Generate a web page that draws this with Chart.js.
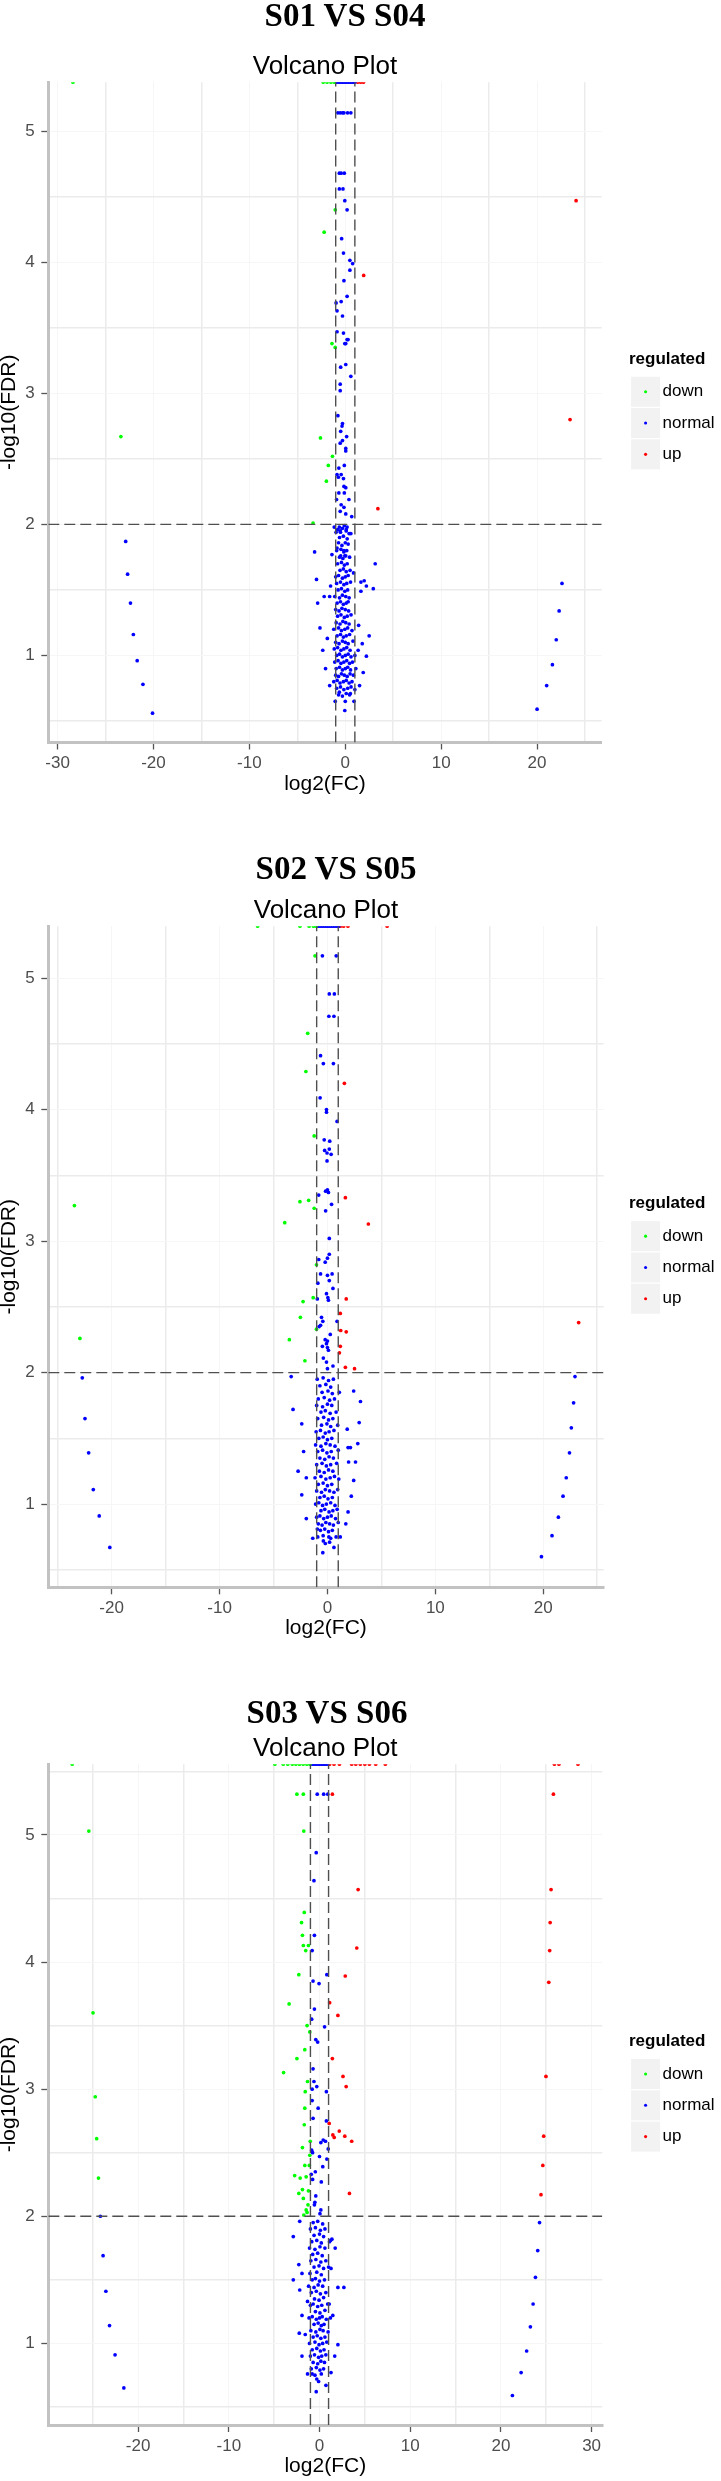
<!DOCTYPE html>
<html><head><meta charset="utf-8">
<script src="https://cdn.jsdelivr.net/npm/chart.js@4.4.1/dist/chart.umd.min.js"></script>
<style>
html,body{margin:0;padding:0;background:#fff;overflow:hidden;}
#page{position:relative;width:721px;height:2481px;overflow:hidden;}
.panel{position:absolute;left:0;width:721px;}
.panel canvas{position:absolute;left:0;top:0;}
.stitle{position:absolute;width:400px;text-align:center;font-family:"Liberation Serif","Times New Roman",serif;font-weight:bold;font-size:33px;line-height:33px;color:#000;white-space:nowrap;}
</style></head><body>
<div id="page"></div>
<script>
// ---------------- DATA ----------------
const panelTitles = ['S01 VS S04', 'S02 VS S05', 'S03 VS S06'];
const chartTitle = 'Volcano Plot';
const legendTitle = 'regulated';
const seriesNames = ['down', 'normal', 'up'];
const xAxisTitle = 'log2(FC)';
const yAxisTitle = '-log10(FDR)';

const xTicks1 = [-30, -25, -20, -15, -10, -5, 0, 5, 10, 15, 20, 25];
const xTicks2 = [-25, -20, -15, -10, -5, 0, 5, 10, 15, 20, 25];
const xTicks3 = [-25, -20, -15, -10, -5, 0, 5, 10, 15, 20, 25, 30];
const yTicks1 = [0.5, 1, 1.5, 2, 2.5, 3, 3.5, 4, 4.5, 5];
const yTicks2 = [0.5, 1, 1.5, 2, 2.5, 3, 3.5, 4, 4.5, 5];
const yTicks3 = [0.5, 1, 1.5, 2, 2.5, 3, 3.5, 4, 4.5, 5, 5.5];

const xRange1 = [-30.97, 26.74], yRange1 = [0.336, 5.374];
const xRange2 = [-25.87, 25.6],  yRange2 = [0.367, 5.395];
const xRange3 = [-29.9, 31.18],  yRange3 = [0.358, 5.556];

const fcCut = [-1, 1];   // log2(FC) thresholds
const fdrCut = 2;        // -log10(FDR) threshold
const INF = Infinity;    // FDR = 0 -> drawn on the panel edge

// ---- Panel 1: S01 VS S04 ----
const p1Down = [[-28.4,INF],[-2.3,INF],[-1.9,INF],[-1.5,INF],[-1.15,INF],
  [-1.05,4.40],[-2.2,4.23],[-1.39,3.38],[-1.05,3.35],[-23.4,2.67],[-2.59,2.66],[-1.34,2.52],[-1.77,2.45],[-1.97,2.33],[-3.36,2.01]];
const p1Up = [[1.3,INF],[1.6,INF],[1.9,INF],[24.07,4.47],[1.92,3.90],[23.44,2.80],[3.4,2.12]];
const p1Normal = [[-0.95,INF],[-0.75,INF],[-0.55,INF],[-0.35,INF],[-0.15,INF],[0.05,INF],[0.25,INF],[0.45,INF],[0.65,INF],[0.85,INF],[1.0,INF],
  [-0.77,5.14],[-0.53,5.14],[-0.29,5.14],[-0.14,5.14],[0.24,5.14],[0.58,5.14],
  [-0.62,4.68],[-0.43,4.68],[-0.1,4.68],[-0.62,4.56],[-0.24,4.56],[-0.05,4.47],[0.19,4.40],[-0.38,4.18],[-0.19,4.07],[0.48,4.015],[0.77,3.99],[0.48,3.94],
  [-0.14,3.86],[0.19,3.74],[-0.43,3.70],[-0.96,3.69],[-0.86,3.63],[-0.29,3.59],[-0.86,3.47],[-0.19,3.46],[0.19,3.41],[0.29,3.41],[0.05,3.38],[-0.05,3.38],
  [0.05,3.22],[-0.48,3.20],[0.58,3.13],[-0.53,3.07],[-0.53,3.02],[-0.77,2.83],
  [-0.29,2.77],[-0.34,2.75],[-0.48,2.71],[-0.29,2.64],[0.14,2.67],[-0.53,2.62],[0.05,2.58],[0.05,2.56],[-0.1,2.45],[-0.67,2.43],[-0.43,2.38],[-0.86,2.38],
  [-0.72,2.36],[-0.19,2.35],[-0.14,2.29],[0.05,2.28],[-0.67,2.24],[-0.1,2.24],[-0.91,2.19],[0.38,2.19],[-0.43,2.15],[-0.14,2.13],[-0.53,2.10],[0.05,2.08],[0.67,2.06],
  [-1.15,1.98],[-0.62,1.98],[-0.1,1.99],[0.19,1.98],[-0.53,1.95],[0.1,1.96],[0.58,1.93],[-0.96,1.94],[-3.2,1.79],[-1.39,1.77],[-0.86,1.82],[-0.14,1.80],
  [-0.05,1.76],[-0.48,1.76],[3.12,1.70],[0.86,1.63],[-3.0,1.58],[1.63,1.56],[1.97,1.57],[2.2,1.53],[2.92,1.51],[1.63,1.49],[-1.53,1.53],[-2.2,1.45],[-1.63,1.45],
  [-2.88,1.40],[-2.64,1.21],[1.39,1.23],[2.49,1.15],[-1.87,1.13],[-2.35,1.04],[1.77,1.09],[1.34,1.04],[2.2,0.995],[-2.06,0.90],[1.87,0.87],[-1.63,0.77],
  [1.49,0.77],[-0.62,0.72],[-1.05,0.65],[0.91,0.65],[0,0.65],[-0.05,0.58],[0.53,0.71],
  [-22.9,1.87],[-22.7,1.62],[-22.4,1.40],[-22.1,1.16],[-21.7,0.96],[-21.1,0.78],[-20.1,0.56],
  [22.6,1.55],[22.3,1.34],[22.0,1.12],[21.6,0.93],[21.0,0.77],[20.0,0.59],
  [-0.8,1.96],[-0.5,1.94],[-0.3,1.97],[0.1,1.95],[0.4,1.93],[-0.6,1.90],[-0.2,1.91],[0.2,1.89],[-0.7,1.86],[-0.35,1.84],[0.0,1.86],[0.3,1.85],
  [-0.9,1.80],[-0.45,1.81],[-0.15,1.79],[0.15,1.80],[-0.6,1.75],[-0.25,1.74],[0.05,1.76],[0.45,1.75],[-0.8,1.70],[-0.4,1.71],[-0.1,1.69],[0.2,1.70],
  [-0.55,1.65],[-0.2,1.66],[0.1,1.64],[0.5,1.65],[-1.0,1.60],[-0.7,1.61],[-0.3,1.59],[0.0,1.60],[0.3,1.61],[-0.9,1.55],[-0.5,1.56],[-0.15,1.54],[0.15,1.55],[0.55,1.56],
  [-0.75,1.50],[-0.4,1.51],[-0.05,1.49],[0.25,1.50],[-1.1,1.45],[-0.6,1.44],[-0.3,1.46],[0.05,1.45],[0.4,1.44],[-0.85,1.40],[-0.5,1.41],[-0.2,1.39],[0.1,1.40],[0.3,1.41],
  [-1.0,1.35],[-0.65,1.34],[-0.35,1.36],[0.0,1.35],[0.35,1.34],[-0.8,1.30],[-0.45,1.31],[-0.1,1.29],[0.2,1.30],[0.6,1.31],[-0.95,1.25],[-0.55,1.24],[-0.25,1.26],[0.05,1.25],[0.4,1.24],
  [-1.2,1.20],[-0.7,1.21],[-0.4,1.19],[-0.05,1.20],[0.25,1.21],[0.7,1.19],[-0.85,1.15],[-0.5,1.16],[-0.2,1.14],[0.1,1.15],[0.45,1.16],
  [-1.0,1.10],[-0.65,1.09],[-0.3,1.11],[0.0,1.10],[0.3,1.09],[0.8,1.11],[-1.15,1.05],[-0.8,1.06],[-0.45,1.04],[-0.15,1.05],[0.15,1.06],[0.5,1.04],
  [-0.9,1.00],[-0.6,1.01],[-0.3,0.99],[0.0,1.00],[0.3,1.01],[0.6,0.99],[1.0,1.00],[-1.1,0.95],[-0.75,0.96],[-0.45,0.94],[-0.15,0.95],[0.15,0.96],[0.45,0.94],[0.75,0.95],
  [-0.95,0.90],[-0.6,0.91],[-0.3,0.89],[0.0,0.90],[0.25,0.91],[0.55,0.89],[1.1,0.90],[-1.0,0.85],[-0.7,0.84],[-0.4,0.86],[-0.1,0.85],[0.2,0.84],[0.5,0.86],[0.85,0.85],
  [-1.2,0.80],[-0.85,0.81],[-0.55,0.79],[-0.2,0.80],[0.1,0.81],[0.4,0.79],[0.7,0.80],[-0.9,0.75],[-0.5,0.76],[-0.15,0.74],[0.25,0.75],[0.6,0.76],[1.0,0.74],
  [-0.7,0.70],[-0.3,0.69],[0.1,0.71],[0.45,0.70]];

// ---- Panel 2: S02 VS S05 ----
const p2Down = [[-6.47,INF],[-2.55,INF],[-1.7,INF],[-1.3,INF],[-1.05,INF],
  [-1.15,5.17],[-1.83,4.58],[-2.0,4.29],[-1.23,3.80],[-2.55,3.30],[-1.74,3.31],[-23.45,3.27],[-1.23,3.25],[-3.96,3.14],[-1.02,2.82],[-1.32,2.57],
  [-2.26,2.54],[-2.51,2.42],[-1.02,2.33],[-22.94,2.26],[-3.53,2.25],[-2.09,2.09]];
const p2Up = [[1.2,INF],[1.5,INF],[1.9,INF],[5.53,INF],[1.57,4.20],[1.66,3.33],[3.79,3.13],[1.74,2.56],[1.19,2.45],[1.23,2.32],[1.74,2.31],
  [1.19,2.20],[1.11,2.15],[1.66,2.04],[2.51,2.03],[23.28,2.38]];
const p2Normal = [[-0.9,INF],[-0.7,INF],[-0.5,INF],[-0.3,INF],[-0.1,INF],[0.1,INF],[0.3,INF],[0.5,INF],[0.7,INF],[0.9,INF],[1.05,INF],
  [-0.47,5.17],[0.81,5.17],[0.17,4.88],[0.64,4.88],[0.13,4.71],[0.6,4.71],[-0.64,4.41],[-0.38,4.35],[0.55,4.35],[-0.68,4.09],[-0.09,4.0],[-0.09,3.98],
  [0.89,3.91],[-0.3,3.77],[0.21,3.76],[-0.26,3.69],[0.17,3.70],[-0.04,3.67],[0.34,3.66],[-0.04,3.61],[-0.17,3.38],[0,3.39],[0.09,3.37],[-0.81,3.35],
  [0.38,3.28],[-0.17,3.23],[0.17,3.02],[0.17,2.90],[-0.21,2.84],[-0.81,2.86],[0,2.87],[-0.64,2.75],[0,2.74],[0.43,2.75],[0.17,2.70],[-0.89,2.68],
  [0.51,2.64],[-0.09,2.60],[0.04,2.57],[0.09,2.55],[-0.94,2.56],[-0.55,2.42],[-0.43,2.39],[0.89,2.39],[-0.77,2.35],[-0.64,2.36],[0.26,2.29],
  [-0.21,2.25],[0,2.24],[-0.09,2.22],[-0.47,2.20],[0,2.19],[0.09,2.17],[-0.38,2.11],[-0.09,2.08],[0,2.03],[0.51,2.05],
  [-22.72,1.96],[-3.36,1.97],[22.94,1.97],
  [-22.47,1.65],[-22.13,1.39],[-21.7,1.11],[-21.15,0.91],[-20.17,0.67],
  [22.81,1.77],[22.6,1.58],[22.43,1.39],[22.13,1.20],[21.83,1.06],[21.4,0.90],[20.81,0.76],[19.83,0.60],
  [2.43,1.86],[3.06,1.78],[-3.19,1.72],[-2.38,1.61],[2.94,1.62],[1.83,1.57],[2.81,1.46],[1.91,1.43],[2.13,1.43],[-2.21,1.40],[1.96,1.32],[2.6,1.32],
  [-2.72,1.25],[-1.96,1.20],[2.43,1.18],[-2.38,1.07],[2.21,1.06],[-1.96,0.89],[1.91,0.94],[1.7,0.85],[-1.36,0.74],[1.19,0.75],[-0.43,0.63],[0.6,0.67],
  [-0.94,0.81],[-0.38,0.72],[0.13,0.75],
  [-0.95,1.95],[-0.4,1.96],[0.1,1.94],[0.55,1.95],[-0.7,1.90],[-0.15,1.91],[0.3,1.89],[-0.5,1.85],[0.05,1.86],[0.45,1.84],[1.1,1.85],
  [-0.85,1.80],[-0.3,1.81],[0.2,1.79],[0.65,1.80],[-1.0,1.75],[-0.45,1.74],[0.0,1.76],[0.4,1.75],[-0.6,1.70],[-0.2,1.71],[0.25,1.69],[0.8,1.70],
  [-0.9,1.65],[-0.35,1.66],[0.1,1.64],[0.5,1.65],[-0.55,1.60],[-0.05,1.61],[0.3,1.59],[0.95,1.60],[-1.05,1.55],[-0.65,1.56],[-0.2,1.54],[0.15,1.55],[0.6,1.56],
  [-0.8,1.50],[-0.4,1.51],[0.0,1.49],[0.4,1.50],[-1.1,1.45],[-0.6,1.44],[-0.15,1.46],[0.25,1.45],[0.7,1.44],[-0.9,1.40],[-0.45,1.41],[-0.05,1.39],[0.35,1.40],[1.0,1.41],
  [-0.7,1.35],[-0.25,1.34],[0.15,1.36],[0.55,1.35],[-1.0,1.30],[-0.5,1.31],[-0.1,1.29],[0.3,1.30],[0.85,1.31],[-0.75,1.25],[-0.3,1.24],[0.1,1.26],[0.5,1.25],
  [-1.15,1.20],[-0.6,1.21],[-0.15,1.19],[0.25,1.20],[0.65,1.21],[1.05,1.19],[-0.85,1.15],[-0.4,1.16],[0.0,1.14],[0.4,1.15],
  [-1.0,1.10],[-0.55,1.09],[-0.2,1.11],[0.2,1.10],[0.6,1.09],[0.95,1.11],[-0.7,1.05],[-0.3,1.06],[0.05,1.04],[0.45,1.05],
  [-1.1,1.00],[-0.8,1.01],[-0.45,0.99],[-0.1,1.00],[0.3,1.01],[0.7,0.99],[-0.6,0.95],[-0.25,0.96],[0.15,0.94],[0.5,0.95],[0.9,0.96],
  [-1.0,0.90],[-0.7,0.91],[-0.35,0.89],[0.0,0.90],[0.35,0.91],[0.75,0.89],[-0.85,0.85],[-0.5,0.84],[-0.15,0.86],[0.2,0.85],[0.55,0.84],[1.0,0.86],
  [-0.65,0.80],[-0.25,0.81],[0.1,0.79],[0.45,0.80],[-0.9,0.75],[-0.4,0.76],[0.3,0.74],[0.8,0.75],[-0.2,0.70],[0.2,0.71]];

// ---- Panel 3: S03 VS S06 ----
const p3Down = [[-27.26,INF],[-4.92,INF],[-4.0,INF],[-3.5,INF],[-3.0,INF],[-2.6,INF],[-2.2,INF],[-1.8,INF],[-1.4,INF],[-1.05,INF],
  [-2.49,5.32],[-1.78,5.32],[-25.43,5.03],[-1.73,5.03],[-1.68,4.39],[-1.98,4.31],[-1.88,4.21],[-1.78,4.13],[-1.22,4.13],[-1.52,4.09],[-2.28,3.90],
  [-3.35,3.67],[-24.97,3.60],[-1.37,3.50],[-1.07,3.45],[-1.62,3.31],[-2.49,3.24],[-3.96,3.13],[-1.32,3.06],[-1.57,2.98],[-24.72,2.94],[-1.62,2.85],
  [-1.68,2.72],[-24.57,2.61],[-1.02,2.59],[-1.88,2.54],[-1.07,2.48],[-1.62,2.40],[-1.12,2.40],[-2.74,2.32],[-2.13,2.30],[-1.47,2.31],[-24.37,2.30],
  [-1.88,2.21],[-1.22,2.20],[-2.28,2.18],[-1.78,2.14],[-1.27,2.09],[-1.47,2.05],[-1.73,2.01],[-1.37,2.03]];
const p3Up = [[1.12,INF],[1.6,INF],[2.2,INF],[3.55,INF],[4.0,INF],[4.5,INF],[5.0,INF],[5.5,INF],[6.2,INF],[7.26,INF],[25.9,INF],[26.4,INF],[28.5,INF],
  [1.42,5.32],[25.79,5.32],[4.26,4.57],[25.53,4.57],[25.43,4.31],[4.11,4.11],[25.38,4.09],[2.84,3.89],[25.28,3.84],[1.12,3.68],[2.03,3.58],[1.42,3.24],
  [2.59,3.10],[2.94,3.02],[24.97,3.10],[1.07,2.73],[2.18,2.67],[1.47,2.64],[1.62,2.62],[2.79,2.63],[24.72,2.63],[3.55,2.59],[24.62,2.40],[3.3,2.18],[24.42,2.17]];
const p3Normal = [[-0.9,INF],[-0.7,INF],[-0.5,INF],[-0.3,INF],[-0.1,INF],[0.1,INF],[0.3,INF],[0.5,INF],[0.7,INF],[0.9,INF],
  [-0.25,5.32],[0.46,5.32],[0.91,5.32],[-0.36,4.86],[-0.61,4.64],[-0.56,4.21],[-0.81,4.09],[0.81,3.90],[-0.71,3.85],[-0.05,3.83],[-0.56,3.63],[-0.86,3.55],
  [0.56,3.49],[-0.41,3.39],[-0.2,3.37],[-0.71,3.16],[-0.61,3.06],[-0.30,3.02],[-0.81,3.0],[0.76,2.98],[-0.81,2.91],[-0.15,2.85],[-0.71,2.77],[0.76,2.75],
  [0.41,2.60],[0.66,2.59],[0.15,2.58],[-0.86,2.52],[-0.76,2.50],[0.96,2.53],[0,2.47],[0.81,2.45],[0.36,2.39],[-0.46,2.35],[-0.91,2.33],[-0.76,2.29],
  [0.2,2.27],[-0.41,2.16],[-0.51,2.11],[-0.56,2.09],[0.15,2.05],[0.05,2.02],
  [-24.16,2.0],[24.26,1.95],
  [-23.86,1.69],[-23.55,1.41],[-23.15,1.14],[-22.54,0.91],[-21.57,0.65],
  [24.06,1.73],[23.81,1.52],[23.55,1.31],[23.25,1.13],[22.84,0.94],[22.23,0.77],[21.27,0.59],
  [-2.18,1.96],[-2.89,1.84],[1.73,1.75],[1.22,1.81],[1.37,1.82],[-2.89,1.50],[-2.18,1.42],[2.03,1.44],[2.69,1.44],[-2.28,1.62],[-1.93,1.55],[-1.32,1.33],
  [-1.93,1.22],[-2.23,1.08],[-1.57,1.07],[2.03,0.99],[1.68,0.90],[-1.93,0.90],[-1.32,0.76],[1.27,0.77],[-0.30,0.72],[0.71,0.67],[-0.36,0.62],[-0.81,0.76],
  [1.47,1.22],[1.07,1.31],[1.27,1.59],
  [-0.7,1.95],[-0.2,1.96],[0.35,1.94],[-1.0,1.90],[-0.45,1.91],[0.1,1.89],[0.6,1.90],[-0.6,1.85],[0.0,1.86],[0.45,1.84],
  [-0.85,1.80],[-0.3,1.81],[0.2,1.79],[1.1,1.80],[-1.1,1.75],[-0.5,1.74],[0.05,1.76],[0.6,1.75],[-0.75,1.70],[-0.2,1.71],[0.3,1.69],
  [-0.95,1.65],[-0.4,1.66],[0.15,1.64],[0.7,1.65],[-0.6,1.60],[-0.05,1.61],[0.45,1.59],[1.0,1.60],[-1.05,1.55],[-0.3,1.56],[0.2,1.54],
  [-0.8,1.50],[-0.45,1.51],[0.0,1.49],[0.55,1.50],[-1.2,1.45],[-0.6,1.44],[-0.15,1.46],[0.35,1.45],[-0.9,1.40],[-0.35,1.41],[0.1,1.39],[0.7,1.40],
  [-0.55,1.35],[-0.05,1.34],[0.45,1.36],[-1.0,1.30],[-0.7,1.31],[-0.2,1.29],[0.25,1.30],[0.9,1.31],[-0.45,1.25],[0.05,1.24],[0.6,1.26],
  [-1.15,1.20],[-0.8,1.21],[-0.35,1.19],[0.0,1.20],[0.3,1.21],[0.75,1.19],[1.2,1.20],[-0.6,1.15],[-0.15,1.16],[0.2,1.14],[0.5,1.15],
  [-0.95,1.10],[-0.4,1.09],[0.05,1.11],[0.4,1.10],[0.95,1.09],[-0.7,1.05],[-0.25,1.06],[0.15,1.04],[0.6,1.05],
  [-1.1,1.00],[-0.5,1.01],[-0.05,0.99],[0.35,1.00],[0.8,1.01],[-0.8,0.95],[-0.3,0.96],[0.1,0.94],[0.5,0.95],
  [-1.0,0.90],[-0.55,0.91],[-0.1,0.89],[0.25,0.90],[0.7,0.91],[-0.7,0.85],[-0.2,0.84],[0.15,0.86],[0.55,0.85],
  [-0.9,0.80],[-0.35,0.81],[0.05,0.79],[0.45,0.80],[-0.5,0.75],[0.2,0.76],[-0.1,0.70]];

// ---------------- RENDER ----------------
const colors = { down: '#00ff00', normal: '#0000ff', up: '#ff0000' };
const SANS = '"Liberation Sans", Arial, Helvetica, sans-serif';
const LEGEND_W = 88.8;

const panels = [
  { title: panelTitles[0], down: p1Down, normal: p1Normal, up: p1Up, xRange: xRange1, yRange: yRange1, xTicks: xTicks1, yTicks: yTicks1,
    top: 0, height: 800, plotBottom: 742.5, rightGap: 21.1, titleX: 345, titleY: 15.5 },
  { title: panelTitles[1], down: p2Down, normal: p2Normal, up: p2Up, xRange: xRange2, yRange: yRange2, xTicks: xTicks2, yTicks: yTicks2,
    top: 844, height: 800, plotBottom: 743.3, rightGap: 19.1, titleX: 336, titleY: 24.5 },
  { title: panelTitles[2], down: p3Down, normal: p3Normal, up: p3Up, xRange: xRange3, yRange: yRange3, xTicks: xTicks3, yTicks: yTicks3,
    top: 1682, height: 799, plotBottom: 743, rightGap: 20.5, titleX: 327, titleY: 31 }
];

// grey key backgrounds behind legend symbols, and let the legend text use the full canvas width
const legendKeyBg = {
  id: 'legendKeyBg',
  afterLayout(chart) {
    if (chart.legend) chart.legend.right = chart.width;
  },
  beforeDraw(chart) {
    const lg = chart.legend;
    if (!lg || !lg.legendHitBoxes) return;
    const ctx = chart.ctx;
    ctx.save();
    ctx.fillStyle = '#f2f2f2';
    lg.legendHitBoxes.forEach(h => {
      const cx = h.left + 8.5, cy = h.top + 8.5;
      ctx.fillRect(cx - 14.5, cy - 15, 29, 30);
    });
    ctx.restore();
  }
};

const page = document.getElementById('page');

panels.forEach(p => {
  const wrap = document.createElement('div');
  wrap.className = 'panel';
  wrap.style.top = p.top + 'px';
  wrap.style.height = p.height + 'px';
  const canvas = document.createElement('canvas');
  canvas.width = 721; canvas.height = p.height;
  canvas.style.width = '721px'; canvas.style.height = p.height + 'px';
  wrap.appendChild(canvas);
  const st = document.createElement('div');
  st.className = 'stitle';
  st.textContent = p.title;
  st.style.left = (p.titleX - 200) + 'px';
  st.style.top = (p.titleY - 16.7) + 'px';
  wrap.appendChild(st);
  page.appendChild(wrap);

  const yMax = p.yRange[1];
  const toPts = arr => arr.map(([x, y]) => ({ x: x, y: Number.isFinite(y) ? y : yMax }));
  const pointDs = (label, arr, color) => ({
    label, data: toPts(arr), backgroundColor: color, borderColor: color, borderWidth: 0,
    pointRadius: 1.85, pointHoverRadius: 1.85, pointStyle: 'circle', clip: 0, order: 2
  });
  const refLine = pts => ({
    label: '_ref', data: pts, showLine: true, borderColor: '#4f4f4f', borderWidth: 1.4,
    borderDash: [11, 5], pointRadius: 0, pointHoverRadius: 0, fill: false, clip: 0, order: 1
  });

  const isMajorX = v => Math.abs(v % 10) < 1e-9;
  const isMajorY = v => Math.abs(v % 1) < 1e-9;

  new Chart(canvas, {
    type: 'scatter',
    data: {
      datasets: [
        pointDs(seriesNames[0], p.down, colors.down),
        pointDs(seriesNames[1], p.normal, colors.normal),
        pointDs(seriesNames[2], p.up, colors.up),
        refLine([{ x: fcCut[0], y: p.yRange[0] }, { x: fcCut[0], y: p.yRange[1] }]),
        refLine([{ x: fcCut[1], y: p.yRange[0] }, { x: fcCut[1], y: p.yRange[1] }]),
        refLine([{ x: p.xRange[0], y: fdrCut }, { x: p.xRange[1], y: fdrCut }])
      ]
    },
    options: {
      responsive: false, animation: false, devicePixelRatio: 1, events: [],
      layout: { padding: { top: 51, right: 721 - 622.8 - LEGEND_W, bottom: p.height - 797, left: 0 } },
      plugins: {
        tooltip: { enabled: false },
        title: { display: true, text: chartTitle, fullSize: false, color: '#000',
          font: { family: SANS, size: 26, weight: 'normal', lineHeight: 1.2 }, padding: { top: 0, bottom: 0 } },
        legend: {
          display: true, position: 'right', align: 'center', fullSize: false, maxWidth: LEGEND_W,
          title: { display: true, text: legendTitle, color: '#000', position: 'center',
            font: { family: SANS, size: 17, weight: 'bold' }, padding: { top: 3.25, bottom: -2.25 } },
          labels: { usePointStyle: true, pointStyle: 'circle', boxHeight: 2.2, boxWidth: 17, padding: 14.3, color: '#000',
            font: { family: SANS, size: 17 }, filter: item => !item.text.startsWith('_') }
        }
      },
      scales: {
        x: {
          type: 'linear', min: p.xRange[0], max: p.xRange[1],
          afterBuildTicks: s => { s.ticks = p.xTicks.map(v => ({ value: v })); },
          afterFit: s => { s.height = 797 - p.plotBottom; },
          ticks: { autoSkip: false, maxRotation: 0, minRotation: 0, padding: 4, color: '#4d4d4d',
            font: { family: SANS, size: 17 }, callback: v => isMajorX(v) ? String(v) : '' },
          grid: { color: c => (c.tick && isMajorX(c.tick.value)) ? '#f6f6f6' : '#ebebeb',
            lineWidth: c => (c.tick && isMajorX(c.tick.value)) ? 1 : 1.5,
            drawTicks: true, tickLength: 7, tickWidth: 1.3,
            tickColor: c => (c.tick && isMajorX(c.tick.value)) ? '#555' : 'rgba(0,0,0,0)' },
          border: { display: true, color: '#c2c2c2', width: 3 },
          title: { display: true, text: xAxisTitle, color: '#000', font: { family: SANS, size: 21 }, padding: { top: 0, bottom: 0 } }
        },
        y: {
          type: 'linear', position: 'left', min: p.yRange[0], max: p.yRange[1],
          afterBuildTicks: s => { s.ticks = p.yTicks.map(v => ({ value: v })); },
          afterFit: s => { s.width = 48.3; },
          ticks: { autoSkip: false, padding: 6.5, color: '#4d4d4d', font: { family: SANS, size: 17 },
            callback: v => isMajorY(v) ? String(v) : '' },
          grid: { color: c => (c.tick && isMajorY(c.tick.value)) ? '#f6f6f6' : '#ebebeb',
            lineWidth: c => (c.tick && isMajorY(c.tick.value)) ? 1 : 1.5,
            drawTicks: true, tickLength: 7, tickWidth: 1.3,
            tickColor: c => (c.tick && isMajorY(c.tick.value)) ? '#555' : 'rgba(0,0,0,0)' },
          border: { display: true, color: '#c2c2c2', width: 3 },
          title: { display: true, text: yAxisTitle, color: '#000', font: { family: SANS, size: 21, lineHeight: 0.9 }, padding: { top: 0, bottom: 0 } }
        },
        yGap: {
          type: 'linear', position: 'right', display: true,
          grid: { display: false, drawTicks: false }, ticks: { display: false }, border: { display: false },
          afterFit: s => { s.width = p.rightGap; }
        }
      }
    },
    plugins: [legendKeyBg]
  });
});
</script>
</body></html>
